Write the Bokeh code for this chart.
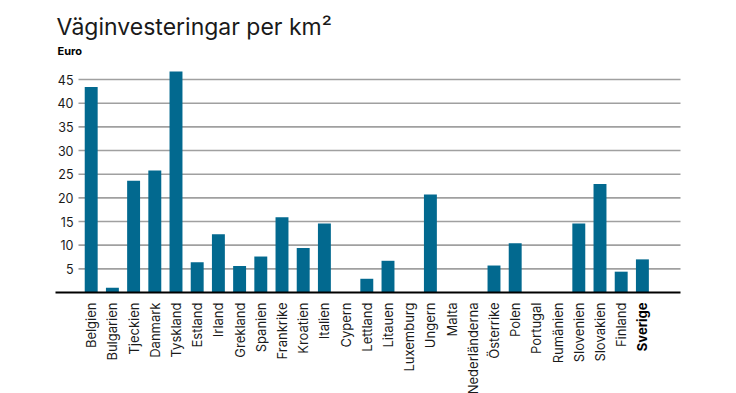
import math
from bokeh.plotting import figure
from bokeh.models import ColumnDataSource
from bokeh.core.properties import value
from bokeh.embed import file_html
from bokeh.resources import INLINE

countries = ["Belgien", "Bulgarien", "Tjeckien", "Danmark", "Tyskland", "Estland", "Irland",
             "Grekland", "Spanien", "Frankrike", "Kroatien", "Italien", "Cypern", "Lettland",
             "Litauen", "Luxemburg", "Ungern", "Malta", "Nederländerna", "Österrike", "Polen",
             "Portugal", "Rumänien", "Slovenien", "Slovakien", "Finland", "Sverige"]
values = [43.4, 1.0, 23.6, 25.8, 46.7, 6.4, 12.3, 5.6, 7.6, 15.9, 9.4, 14.6, 0, 2.9,
          6.7, 0, 20.7, 0, 0, 5.7, 10.4, 0, 0, 14.6, 22.9, 4.4, 7.0]
y_ticks = [5, 10, 15, 20, 25, 30, 35, 40, 45]
title_text = "Väginvesteringar per km²"
unit_text = "Euro"
highlight = "Sverige"

FONT = "Inter"
BAR = "#02698f"
TXT = "#1a1a1a"

W, H = 736, 393
STEP = 21.2      # px per category
PXU = 4.733      # px per euro unit
X0PX, Y0PX = 90.7, 292.0   # screen position of first category / zero line


def dx(px):
    return (px - X0PX) / STEP


def dy(py):
    return (Y0PX - py) / PXU


xs = list(range(len(countries)))
src = ColumnDataSource(dict(x=xs, top=values))

p = figure(width=W, height=H, output_backend="svg", toolbar_location=None,
           x_range=(dx(0), dx(W)), y_range=(dy(H), dy(0)),
           min_border=0, min_border_left=0, min_border_right=0,
           min_border_top=0, min_border_bottom=0)
p.axis.visible = False
p.grid.visible = False
p.outline_line_color = None
p.background_fill_color = "white"
p.border_fill_color = "white"

# gridlines and y tick labels
grid = ColumnDataSource(dict(y=y_ticks, lab=[str(t) for t in y_ticks]))
p.segment(x0=dx(78), x1=dx(680), y0="y", y1="y", source=grid,
          line_color="#a0a0a0", line_width=1.6)
p.text(x=dx(73), y="y", text="lab", source=grid, text_align="right", text_baseline="middle",
       text_font=value(FONT), text_font_size="12.5px", text_color=TXT)

# bars
p.vbar(x="x", top="top", width=0.61, source=src, fill_color=BAR, line_color=None)

# baseline
p.segment(x0=dx(55), x1=dx(680), y0=0, y1=0, line_color="#000000", line_width=2)

# category labels
normal = [(i, c) for i, c in enumerate(countries) if c != highlight]
bold = [(i, c) for i, c in enumerate(countries) if c == highlight]
lab_n = ColumnDataSource(dict(x=[i for i, _ in normal], t=[c for _, c in normal]))
lab_b = ColumnDataSource(dict(x=[i for i, _ in bold], t=[c for _, c in bold]))
for s, style in ((lab_n, "normal"), (lab_b, "bold")):
    p.text(x="x", y=dy(302), text="t", source=s, angle=math.pi / 2,
           text_align="right", text_baseline="middle",
           text_font=value(FONT), text_font_size="13px", text_font_style=style,
           text_color="#000000" if style == "bold" else TXT)

# titles
p.text(x=[dx(56)], y=[dy(26)], text=[title_text], text_align="left", text_baseline="alphabetic",
       text_font=value(FONT), text_font_size="23px", text_color=TXT)
p.text(x=[dx(57)], y=[dy(50)], text=[unit_text], text_align="left", text_baseline="alphabetic",
       text_font=value(FONT), text_font_size="11px", text_font_style="bold", text_color="#000000")

open("out.html", "w").write(file_html(p, INLINE))
